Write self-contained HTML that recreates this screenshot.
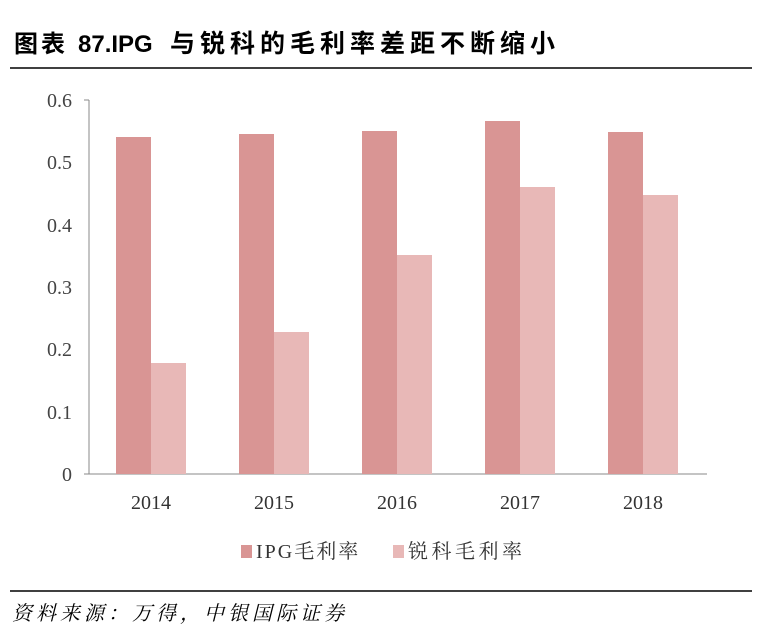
<!DOCTYPE html>
<html><head><meta charset="utf-8"><style>
body{margin:0;background:#fff;}
svg{display:block;}
</style></head><body>
<svg width="782" height="640" xmlns="http://www.w3.org/2000/svg">
<rect width="782" height="640" fill="#fff"/>
<g font-family="'Liberation Sans','Noto Sans CJK SC',sans-serif" font-weight="bold" fill="#000">
<text x="14" y="52" font-size="24" letter-spacing="3">图表</text>
<text x="78" y="52" font-size="24">87.IPG</text>
<text x="170" y="52" font-size="25" letter-spacing="5">与锐科的毛利率差距不断缩小</text>
</g>
<line x1="10" y1="68" x2="752" y2="68" stroke="#000" stroke-width="1.5"/>
<g font-family="'Liberation Serif',serif" font-size="20" fill="#444" text-anchor="end">
<text x="72" y="107">0.6</text><text x="72" y="169">0.5</text><text x="72" y="232">0.4</text>
<text x="72" y="294">0.3</text><text x="72" y="356">0.2</text><text x="72" y="419">0.1</text>
<text x="72" y="481">0</text>
</g>
<g stroke="#888" stroke-width="1">
<line x1="89" y1="100" x2="89" y2="474"/>
<line x1="84" y1="100" x2="89" y2="100"/>
<line x1="84" y1="474" x2="707" y2="474"/>
</g>
<g fill="#d99594">
<rect x="116" y="137" width="35" height="337"/>
<rect x="239" y="134" width="35" height="340"/>
<rect x="362" y="131" width="35" height="343"/>
<rect x="485" y="121" width="35" height="353"/>
<rect x="608" y="132" width="35" height="342"/>
</g>
<g fill="#e8b8b7">
<rect x="151" y="363" width="35" height="111"/>
<rect x="274" y="332" width="35" height="142"/>
<rect x="397" y="255" width="35" height="219"/>
<rect x="520" y="187" width="35" height="287"/>
<rect x="643" y="195" width="35" height="279"/>
</g>
<g font-family="'Liberation Serif',serif" font-size="20" fill="#333" text-anchor="middle">
<text x="151" y="509">2014</text><text x="274" y="509">2015</text><text x="397" y="509">2016</text>
<text x="520" y="509">2017</text><text x="643" y="509">2018</text>
</g>
<rect x="241" y="545" width="11" height="13" fill="#d99594"/>
<text x="256" y="558" font-family="'Liberation Serif','Noto Serif CJK SC',serif" font-size="20" fill="#333" letter-spacing="2">IPG毛利率</text>
<rect x="393" y="545" width="11" height="13" fill="#e8b8b7"/>
<text x="408" y="558" font-family="'Liberation Serif','Noto Serif CJK SC',serif" font-size="20" fill="#333" letter-spacing="3.5">锐科毛利率</text>
<line x1="10" y1="591" x2="752" y2="591" stroke="#000" stroke-width="1.5"/>
<text x="12" y="620" font-family="'Noto Serif CJK SC',serif" font-size="20" font-style="italic" fill="#000" letter-spacing="4">资料来源：万得，中银国际证券</text>
</svg>
</body></html>
